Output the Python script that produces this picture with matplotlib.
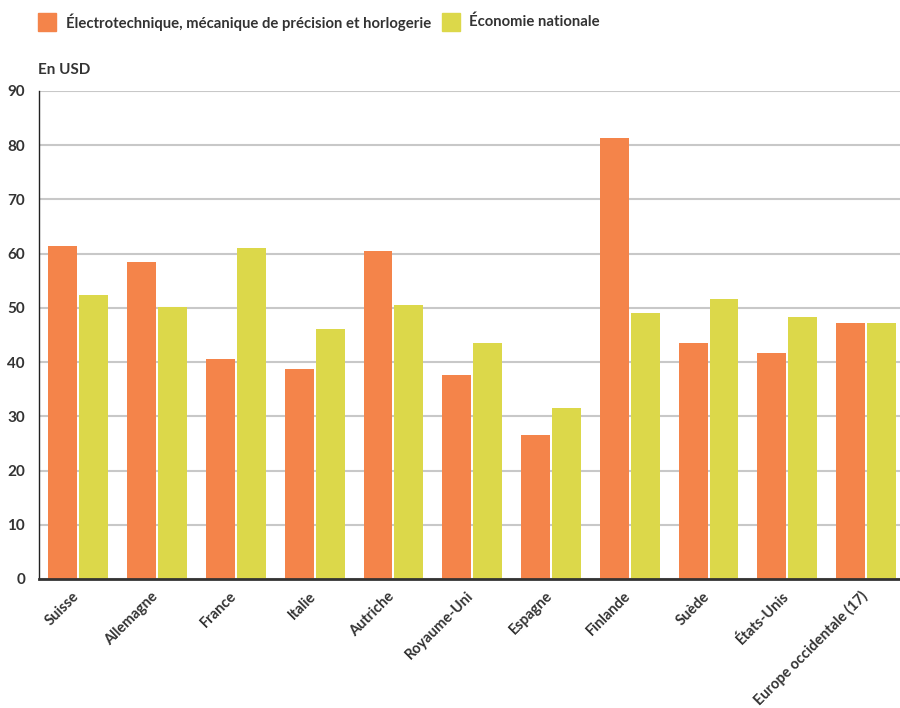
import numpy as np
import matplotlib.pyplot as plt
from matplotlib.patches import Rectangle
from matplotlib.transforms import ScaledTranslation

plt.rcParams['font.family'] = ['Lato', 'DejaVu Sans']
plt.rcParams['font.weight'] = 'bold'

pays = ['Suisse', 'Allemagne', 'France', 'Italie', 'Autriche', 'Royaume-Uni',
        'Espagne', 'Finlande', 'Suède', 'États-Unis', 'Europe occidentale (17)']
electrotech = [61.4, 58.5, 40.6, 38.7, 60.5, 37.6, 26.6, 81.4, 43.5, 41.7, 47.2]
economie = [52.4, 50.2, 61.1, 46.1, 50.6, 43.5, 31.5, 49.1, 51.7, 48.3, 47.2]

orange = '#F4844A'
jaune = '#DCD84A'
texte = '#333333'

fig = plt.figure(figsize=(9, 7.08), dpi=100)
ax = fig.add_axes([39 / 900, 129 / 708, 861 / 900, 488 / 708])

x = np.arange(len(pays))
w = 0.367
off = 0.196
ax.bar(x - off, electrotech, w, color=orange, zorder=3)
ax.bar(x + off, economie, w, color=jaune, zorder=3)

ax.set_xlim(-0.5, 10.43)
ax.set_ylim(0, 90)
ax.set_yticks(range(0, 91, 10))
ax.yaxis.grid(True, color='#c8c8c8', linewidth=1.5, zorder=0)
ax.set_axisbelow(True)

for s in ['top', 'right']:
    ax.spines[s].set_visible(False)
ax.spines['left'].set_color('#222222')
ax.spines['left'].set_linewidth(1.0)
ax.spines['bottom'].set_color('#333333')
ax.spines['bottom'].set_linewidth(2.0)
ax.spines['bottom'].set_zorder(4)

ax.tick_params(axis='both', length=0, labelsize=11, labelcolor=texte)
ax.tick_params(axis='y', pad=10)
ax.set_xticks(x)
ax.set_xticklabels(pays, rotation=45, ha='right', rotation_mode='anchor',
                   fontweight='bold', fontsize=10.5)
ax.tick_params(axis='x', pad=8)
shift = ScaledTranslation(-6 / 100, 1 / 100, fig.dpi_scale_trans)
for lab in ax.get_xticklabels():
    lab.set_transform(lab.get_transform() + shift)
for lab in ax.get_yticklabels():
    lab.set_fontweight('bold')

# legend above the plot
fig.patches.append(Rectangle((38 / 900, 1 - 31 / 708), 18 / 900, 18 / 708,
                             transform=fig.transFigure, color=orange))
fig.text(66 / 900, 1 - 22 / 708, 'Électrotechnique, mécanique de précision et horlogerie',
         fontsize=10.7, fontweight='bold', color=texte, va='center')
fig.patches.append(Rectangle((442 / 900, 1 - 31 / 708), 18 / 900, 18 / 708,
                             transform=fig.transFigure, color=jaune))
fig.text(469 / 900, 1 - 22 / 708, 'Économie nationale',
         fontsize=10.7, fontweight='bold', color=texte, va='center')

fig.text(38 / 900, 1 - 70 / 708, 'En USD', fontsize=11, fontweight='bold',
         color=texte, va='center')

fig.savefig('out.png', dpi=100)
